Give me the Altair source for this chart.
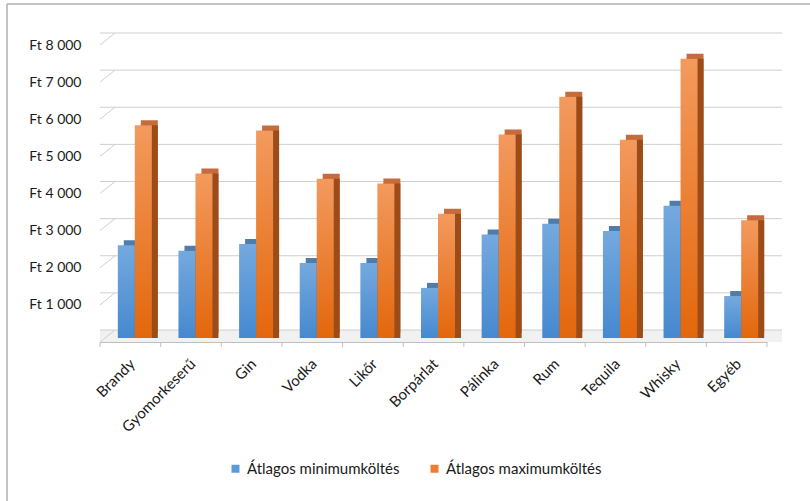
import altair as alt
import pandas as pd

categories = ["Brandy", "Gyomorkeserű", "Gin", "Vodka", "Likőr", "Borpárlat",
              "Pálinka", "Rum", "Tequila", "Whisky", "Egyéb"]
min_values = [2500, 2350, 2530, 2020, 2020, 1350, 2790, 3080, 2880, 3560, 1130]
max_values = [5730, 4430, 5590, 4290, 4160, 3350, 5480, 6500, 5340, 7520, 3170]
series_names = ["Átlagos minimumköltés", "Átlagos maximumköltés"]
y_ticks = [0, 1000, 2000, 3000, 4000, 5000, 6000, 7000, 8000]

rows = []
for c, a, b in zip(categories, min_values, max_values):
    rows.append({"cat": c, "series": series_names[0], "value": a})
    rows.append({"cat": c, "series": series_names[1], "value": b})
df = pd.DataFrame(rows)
cat_df = pd.DataFrame({"cat": categories})
last_df = pd.DataFrame({"cat": categories[-1:]})
grid_df = pd.DataFrame({"v": y_ticks})
one = pd.DataFrame({"a": [0]})

FONT = "Lato"
W, H = 667, 297
BAR_W = 17

y_scale = alt.Scale(domain=[0, 8000], nice=False)
y_axis = alt.Axis(values=y_ticks, labelExpr="datum.value == 0 ? '' : 'Ft ' + replace(format(datum.value, ','), ',', ' ')",
                  domain=False, ticks=False, grid=False, labelPadding=19, title=None,
                  labelFont=FONT, labelFontSize=14, labelColor="#1a1a1a")
x_scale = alt.Scale(domain=categories, paddingInner=0.44, paddingOuter=0.22)
x_axis = alt.Axis(title=None, labelAngle=-45, labelAlign="right", labelBaseline="middle",
                  labelPadding=19, labelOffset=2, ticks=False, domain=True, domainColor="#bfbfbf",
                  labelFont=FONT, labelFontSize=15, labelColor="#1a1a1a")
x_enc = alt.X("cat:N", scale=x_scale, axis=x_axis, sort=categories)
y_enc = alt.Y("value:Q", scale=y_scale, axis=y_axis)

# floor
floor = alt.Chart(one).mark_rect(color="#f1f1f1", y2Offset=-12).encode(
    x=alt.value(0), x2=alt.value(W + 15),
    y=alt.Y(datum=0, scale=y_scale, axis=y_axis), y2=alt.Y2(datum=0)
)
# back-wall gridlines
grid = alt.Chart(grid_df).mark_rule(color="#cfcfcf", strokeWidth=1, xOffset=15, yOffset=-12).encode(
    y=alt.Y("v:Q", scale=y_scale, axis=y_axis)
)
# left wall diagonals
diag = alt.Chart(grid_df).mark_rule(color="#cfcfcf", strokeWidth=1, y2Offset=-12).encode(
    x=alt.value(0), x2=alt.value(15),
    y=alt.Y("v:Q", scale=y_scale, axis=y_axis), y2=alt.Y2("v:Q")
)
# category boundary ticks
ticks = alt.Chart(cat_df).mark_rule(color="#bfbfbf", xOffset=-13.3).encode(
    x=alt.X("cat:N", scale=x_scale, axis=x_axis, sort=categories, bandPosition=0),
    y=alt.value(H), y2=alt.value(H + 5)
)
ticks_end = alt.Chart(last_df).mark_rule(color="#bfbfbf", xOffset=13.3).encode(
    x=alt.X("cat:N", scale=x_scale, axis=x_axis, sort=categories, bandPosition=1),
    y=alt.value(H), y2=alt.value(H + 5)
)

def grad(top, bottom):
    return alt.LinearGradient(gradient="linear", x1=0, x2=0, y1=0, y2=1,
                              stops=[alt.GradientStop(color=top, offset=0),
                                     alt.GradientStop(color=bottom, offset=1)])

styles = {
    series_names[0]: dict(front=grad("#74a9de", "#4689cf"), top="#4f7cab", side="#3d6b9c", dx=-4),
    series_names[1]: dict(front=grad("#f39a5e", "#e3670c"), top="#c66b3c", side="#9c4c18", dx=13),
}

layers = [floor, grid, diag, ticks, ticks_end]
for s in series_names:
    base = alt.Chart(df).transform_filter(alt.datum.series == s)
    st = styles[s]
    layers.append(base.mark_bar(color=st["top"], width=BAR_W, xOffset=st["dx"] + 6, yOffset=-9)
                  .encode(x=x_enc, y=y_enc))
    layers.append(base.mark_bar(color=st["side"], width=BAR_W, xOffset=st["dx"] + 6, yOffset=-4)
                  .encode(x=x_enc, y=y_enc))
for s in series_names:
    base = alt.Chart(df).transform_filter(alt.datum.series == s)
    st = styles[s]
    layers.append(base.mark_bar(color=st["front"], width=BAR_W, xOffset=st["dx"], yOffset=-4)
                  .encode(x=x_enc, y=y_enc))

legend_layer = alt.Chart(df).mark_square(opacity=0).encode(
    x=x_enc, y=y_enc,
    color=alt.Color("series:N", sort=series_names,
                    scale=alt.Scale(domain=series_names, range=["#5b9bd5", "#ed7d31"]),
                    legend=alt.Legend(title=None, orient="none", legendX=128, legendY=416,
                                      direction="horizontal", symbolType="square", symbolSize=64,
                                      symbolOpacity=1, symbolStrokeWidth=0, labelFont=FONT,
                                      labelFontSize=15, labelColor="#1a1a1a", columnPadding=27,
                                      labelOffset=4, padding=0))
)
layers.append(legend_layer)

border_left = alt.Chart(one).mark_rule(color="#b0b0b0", strokeWidth=1.5).encode(
    x=alt.value(-93), y=alt.value(-41), y2=alt.value(460))
border_top = alt.Chart(one).mark_rule(color="#b0b0b0", strokeWidth=1.5).encode(
    x=alt.value(-93), x2=alt.value(720), y=alt.value(-41))
layers += [border_left, border_top]

chart = alt.layer(*layers).properties(
    width=W, height=H,
    autosize=alt.AutoSizeParams(type="none"),
    padding={"left": 100, "top": 45, "right": 43, "bottom": 159},
    background="white",
).configure_view(stroke=None)

chart.save("out.html", embed_options={"renderer": "svg", "actions": False})
